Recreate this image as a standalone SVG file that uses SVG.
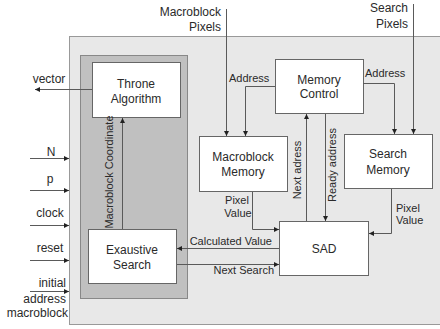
<svg xmlns="http://www.w3.org/2000/svg" width="440" height="329" viewBox="0 0 440 329">
<style>
text{font-family:"Liberation Sans",Arial,sans-serif;fill:#2a2a2a}
.b{font-size:12px;text-anchor:middle}
.s{font-size:11px}
.i{font-size:12px}
.box{fill:#fff;stroke:#666;stroke-width:1}
.c{fill:none;stroke:#5a5a5a;stroke-width:1}
</style>
<defs>
<marker id="a" markerUnits="userSpaceOnUse" markerWidth="6" markerHeight="6" refX="5" refY="2.5" orient="auto">
<path d="M0,0 L5,2.5 L0,5 z" fill="#222"/>
</marker>
</defs>
<rect x="69.5" y="36.5" width="380" height="288" fill="#e8e8e8" stroke="#999"/>
<rect x="80.5" y="55.5" width="107" height="243" fill="#c0c0c0" stroke="#888"/>
<g id="throne"><rect class="box" x="92.5" y="62.5" width="88" height="55"/><text class="b" x="136" y="87.5">Throne</text><text class="b" x="136" y="102.5">Algorithm</text></g>
<g id="exaustive"><rect class="box" x="88.5" y="229.5" width="88" height="54"/><text class="b" x="132" y="253.5">Exaustive</text><text class="b" x="132" y="268.5">Search</text></g>
<g id="memctrl"><rect class="box" x="275.5" y="59.5" width="88" height="54"/><text class="b" x="319" y="83.5">Memory</text><text class="b" x="319" y="97.5">Control</text></g>
<g id="mbmem"><rect class="box" x="199.5" y="136.5" width="88" height="55"/><text class="b" x="243" y="160.5">Macroblock</text><text class="b" x="243" y="175.5">Memory</text></g>
<g id="smem"><rect class="box" x="344.5" y="134.5" width="88" height="54"/><text class="b" x="388" y="157.5">Search</text><text class="b" x="388" y="173.5">Memory</text></g>
<g id="sad"><rect class="box" x="279.5" y="221.5" width="89" height="54"/><text class="b" x="324" y="252.5">SAD</text></g>
<g id="connectors">
<path class="c" d="M122.5,229 V118" marker-end="url(#a)"/>
<path class="c" d="M92,89.5 H35" marker-end="url(#a)"/>
<path class="c" d="M30,158.5 H69" marker-end="url(#a)"/>
<path class="c" d="M30,190.5 H69" marker-end="url(#a)"/>
<path class="c" d="M30,225.5 H69" marker-end="url(#a)"/>
<path class="c" d="M30,260.5 H69" marker-end="url(#a)"/>
<path class="c" d="M30,291.5 H69" marker-end="url(#a)"/>
<path class="c" d="M226.5,9 V136" marker-end="url(#a)"/>
<path class="c" d="M275,86.5 H245.5 V136" marker-end="url(#a)"/>
<path class="c" d="M413.5,4 V134" marker-end="url(#a)"/>
<path class="c" d="M363,83.5 H394.5 V134" marker-end="url(#a)"/>
<path class="c" d="M306.5,221 V114" marker-end="url(#a)"/>
<path class="c" d="M325.5,114 V221" marker-end="url(#a)"/>
<path class="c" d="M252.5,192 V229.5 H279" marker-end="url(#a)"/>
<path class="c" d="M391.5,189 V233.5 H369" marker-end="url(#a)"/>
<path class="c" d="M279,248.5 H177" marker-end="url(#a)"/>
<path class="c" d="M177,264.5 H279" marker-end="url(#a)"/>
</g>
<g id="labels">
<text class="i" x="221" y="15.5" text-anchor="end">Macroblock</text>
<text class="i" x="221" y="30.5" text-anchor="end">Pixels</text>
<text class="i" x="408" y="11.5" text-anchor="end">Search</text>
<text class="i" x="408" y="27.5" text-anchor="end">Pixels</text>
<text class="i" x="49" y="83" text-anchor="middle">vector</text>
<text class="i" x="51" y="155.5" text-anchor="middle">N</text>
<text class="i" x="50" y="182.5" text-anchor="middle">p</text>
<text class="i" x="50" y="216.5" text-anchor="middle">clock</text>
<text class="i" x="50" y="251.5" text-anchor="middle">reset</text>
<text class="i" x="66" y="286.5" text-anchor="end">initial</text>
<text class="i" x="66" y="302.5" text-anchor="end">address</text>
<text class="i" x="68" y="316.5" text-anchor="end">macroblock</text>
<text class="s" x="229" y="82">Address</text>
<text class="s" x="365" y="77">Address</text>
<text class="s" x="237" y="204" text-anchor="middle">Pixel</text>
<text class="s" x="238" y="217" text-anchor="middle">Value</text>
<text class="s" x="396" y="212">Pixel</text>
<text class="s" x="396" y="224">Value</text>
<text class="s" x="272" y="245" text-anchor="end">Calculated Value</text>
<text class="s" x="274" y="274" text-anchor="end">Next Search</text>
<text class="s" transform="translate(113,172) rotate(-90)" text-anchor="middle">Macroblock Coordinate</text>
<text class="s" transform="translate(301,170) rotate(-90)" text-anchor="middle">Next adress</text>
<text class="s" transform="translate(336,165) rotate(-90)" text-anchor="middle">Ready address</text>
</g>
</svg>
